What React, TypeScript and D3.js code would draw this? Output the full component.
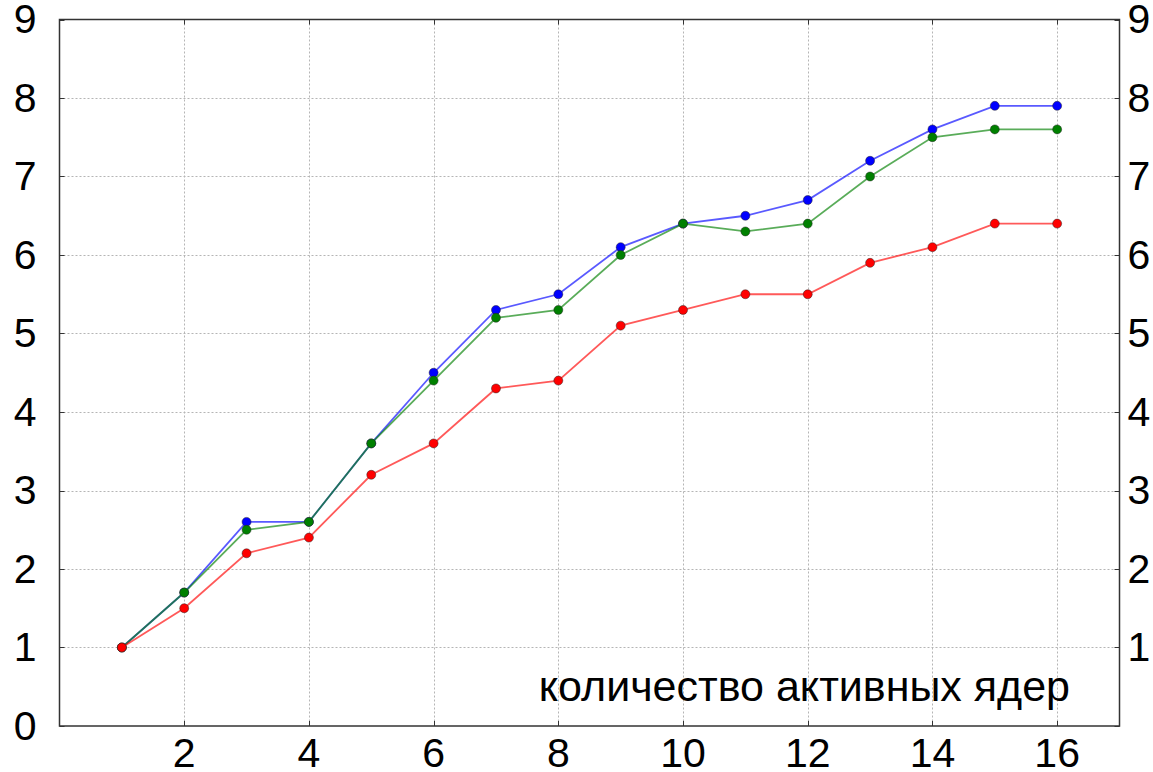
import React, { useEffect, useRef } from "react";
import * as d3 from "d3";

// количество активных ядер
const cores = [1, 2, 3, 4, 5, 6, 7, 8, 9, 10, 11, 12, 13, 14, 15, 16];
const blueSeries = [1, 1.7, 2.6, 2.6, 3.6, 4.5, 5.3, 5.5, 6.1, 6.4, 6.5, 6.7, 7.2, 7.6, 7.9, 7.9];
const greenSeries = [1, 1.7, 2.5, 2.6, 3.6, 4.4, 5.2, 5.3, 6.0, 6.4, 6.3, 6.4, 7.0, 7.5, 7.6, 7.6];
const redSeries = [1, 1.5, 2.2, 2.4, 3.2, 3.6, 4.3, 4.4, 5.1, 5.3, 5.5, 5.5, 5.9, 6.1, 6.4, 6.4];
const xTicks = [2, 4, 6, 8, 10, 12, 14, 16];
const yTicksLeft = [0, 1, 2, 3, 4, 5, 6, 7, 8, 9];
const yTicksRight = [1, 2, 3, 4, 5, 6, 7, 8, 9];
const xLabel = "количество активных ядер";

const W = 1153;
const H = 772;

export default function App() {
  const ref = useRef<SVGSVGElement>(null);

  useEffect(() => {
    const svg = d3.select(ref.current);
    svg.selectAll("*").remove();

    const left = 59.5, right = 1119.5, top = 19.5, bottom = 726;
    const x = d3.scaleLinear().domain([0, 17]).range([left, right]);
    const y = d3.scaleLinear().domain([0, 9]).range([bottom, top]);
    const font = "'Liberation Sans', Arial, sans-serif";

    svg.append("rect").attr("width", W).attr("height", H).attr("fill", "#fff");

    // grid
    const grid = svg.append("g").attr("stroke", "#b5b5b5").attr("stroke-width", 1)
      .attr("stroke-dasharray", "2,2");
    grid.selectAll("line.gx").data(xTicks).enter().append("line")
      .attr("x1", d => Math.round(x(d)) + 0.5).attr("x2", d => Math.round(x(d)) + 0.5)
      .attr("y1", top).attr("y2", bottom);
    grid.selectAll("line.gy").data(yTicksRight.slice(0, -1)).enter().append("line")
      .attr("y1", d => Math.round(y(d)) + 0.5).attr("y2", d => Math.round(y(d)) + 0.5)
      .attr("x1", left).attr("x2", right);

    // x label inside plot
    svg.append("text")
      .attr("x", 1070).attr("y", 701)
      .attr("text-anchor", "end")
      .attr("font-family", font).attr("font-size", 43)
      .text(xLabel);

    // series
    const series = [
      { values: blueSeries, color: "#0000ff" },
      { values: greenSeries, color: "#008000" },
      { values: redSeries, color: "#ff0000" },
    ];
    const line = d3.line<number>().x((_, i) => x(cores[i])).y(d => y(d));
    series.forEach(s => {
      svg.append("path").datum(s.values)
        .attr("fill", "none").attr("stroke", s.color).attr("stroke-opacity", 0.65)
        .attr("stroke-width", 1.8).attr("d", line);
      svg.append("g").selectAll("circle").data(s.values).enter().append("circle")
        .attr("cx", (_, i) => x(cores[i])).attr("cy", d => y(d)).attr("r", 4.5)
        .attr("fill", s.color).attr("stroke", "#222").attr("stroke-opacity", 0.6)
        .attr("stroke-width", 0.8);
    });

    // frame
    svg.append("rect").attr("x", left).attr("y", top)
      .attr("width", right - left).attr("height", bottom - top)
      .attr("fill", "none").attr("stroke", "#333").attr("stroke-width", 1.5);

    // ticks (inward)
    const ticks = svg.append("g").attr("stroke", "#333").attr("stroke-width", 1);
    xTicks.forEach(t => {
      const px = Math.round(x(t)) + 0.5;
      ticks.append("line").attr("x1", px).attr("x2", px).attr("y1", bottom).attr("y2", bottom - 5);
      ticks.append("line").attr("x1", px).attr("x2", px).attr("y1", top).attr("y2", top + 5);
    });
    yTicksLeft.forEach(t => {
      const py = Math.round(y(t)) + 0.5;
      ticks.append("line").attr("x1", left).attr("x2", left + 5).attr("y1", py).attr("y2", py);
      ticks.append("line").attr("x1", right).attr("x2", right - 5).attr("y1", py).attr("y2", py);
    });

    // tick labels
    const lab = svg.append("g").attr("font-family", font).attr("font-size", 41).attr("fill", "#000");
    lab.selectAll("text.yl").data(yTicksLeft).enter().append("text")
      .attr("x", left - 23).attr("y", d => y(d)).attr("dy", "0.33em")
      .attr("text-anchor", "end").text(d => d);
    lab.selectAll("text.yr").data(yTicksRight).enter().append("text")
      .attr("x", right + 8).attr("y", d => y(d)).attr("dy", "0.33em")
      .attr("text-anchor", "start").text(d => d);
    lab.selectAll("text.xl").data(xTicks).enter().append("text")
      .attr("x", d => x(d)).attr("y", bottom + 41)
      .attr("text-anchor", "middle").text(d => d);
  }, []);

  return (
    <svg ref={ref} width={W} height={H}
      style={{ position: "absolute", left: 0, top: 0, display: "block" }} />
  );
}
